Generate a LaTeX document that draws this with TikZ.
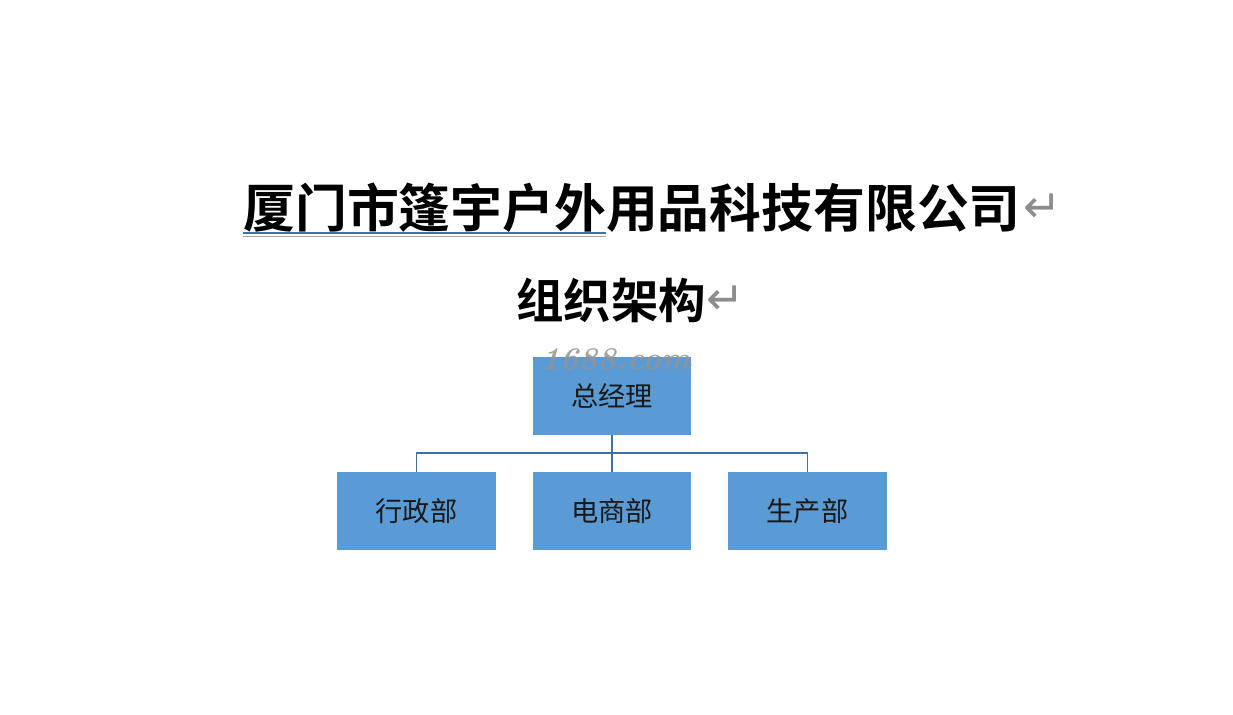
\documentclass[tikz,border=0pt]{standalone}
\usepackage{fontspec}
\usetikzlibrary{positioning}
\newfontfamily\cjk{Noto Sans CJK SC}
\newfontfamily\cjkbold{Noto Sans CJK SC Bold}
\newfontfamily\symfont{DejaVu Sans}
\definecolor{boxblue}{HTML}{5B9BD5}
\definecolor{linkblue}{HTML}{41719C}
\definecolor{markgray}{HTML}{8C8C8C}
\tikzset{
  unit/.style={fill=boxblue, inner sep=0pt, minimum width=3.18cm, minimum height=1.56cm,
    font=\cjk\fontsize{15.5}{15.5}\selectfont, text=black!90},
  link/.style={draw=linkblue, line width=1.1pt},
  retmark/.style={font=\symfont\fontsize{26}{26}\selectfont, text=markgray, inner sep=0pt},
}
\begin{document}
\begin{tikzpicture}[x=0.02cm,y=-0.02cm]
  \useasboundingbox (0,0) rectangle (1233,715);
  % heading
  \node[font=\cjkbold\fontsize{29.5}{29.5}\selectfont, inner sep=0pt, anchor=west] (title) at (243,208)
    {厦门市篷宇户外用品科技有限公司};
  \node[retmark, right=1pt of title] (ret1) {↵};
  \draw[linkblue, line width=0.6pt] (243,233) -- (606,233);
  \draw[gray!70, line width=0.5pt] (243,236) -- (606,236);
  \node[font=\cjkbold\fontsize{27}{27}\selectfont, inner sep=0pt, anchor=west] (sub) at (516,300) {组织架构};
  \node[retmark, right=0pt of sub] (ret2) {↵};
  % chart
  \node[unit] (gm) at (612,396) {总经理};
  \foreach \name/\x/\lab in {admin/416.5/行政部, ecom/612/电商部, prod/807.5/生产部} {
    \node[unit] (\name) at (\x,511) {\lab};
  }
  \coordinate (bus) at (612,453);
  \draw[link] (gm.south) -- (bus);
  \foreach \name in {admin,ecom,prod}
    \draw[link] (bus) -| (\name.north);
  % watermark
  \node[font=\bfseries\itshape\fontsize{18}{18}\selectfont, text=gray!85, opacity=0.85] (wm) at (616,359) {1688.com};
\end{tikzpicture}
\end{document}
